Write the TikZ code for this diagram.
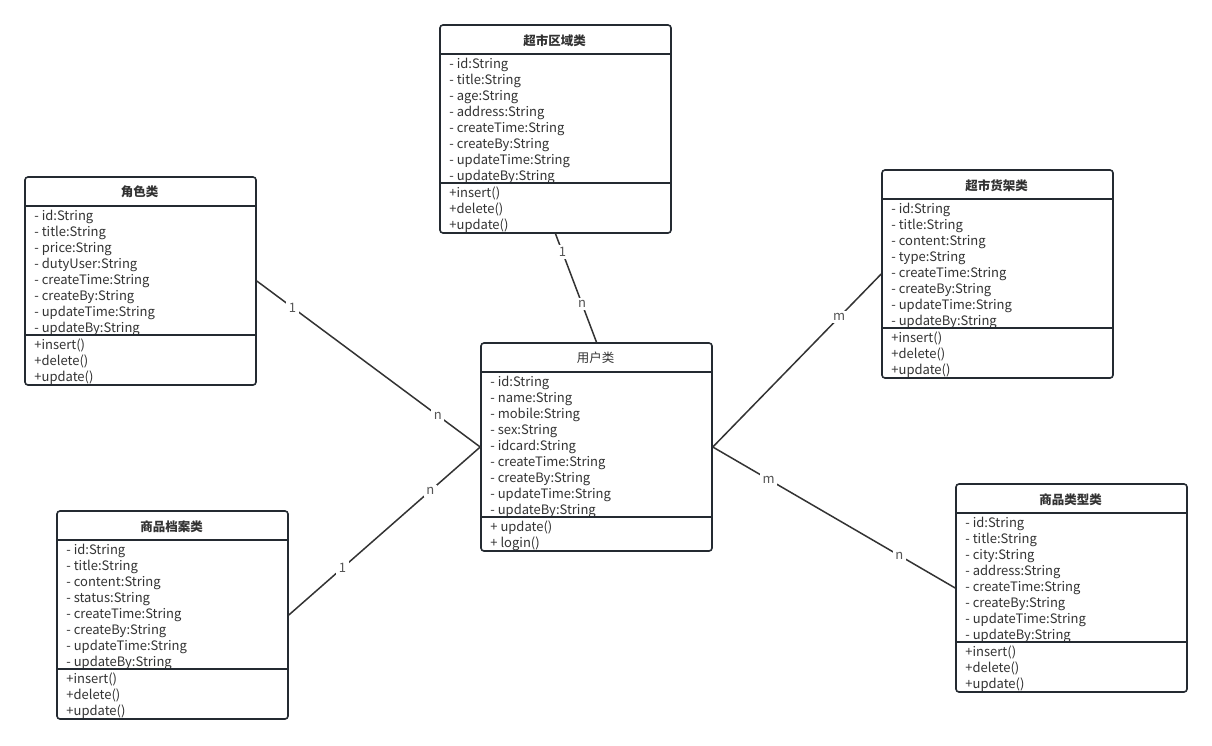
\documentclass[tikz,border=0pt]{standalone}
\usepackage{fontspec}
\setmainfont{Noto Sans CJK SC}
\definecolor{boxline}{HTML}{242A31}
\definecolor{conn}{HTML}{333333}
\definecolor{txt}{HTML}{333333}
\definecolor{lbl}{HTML}{555555}
\tikzset{
  classbox/.style={draw=boxline, line width=1.6pt, rounded corners=3pt, minimum width=231pt, minimum height=208pt, inner sep=0pt, fill=white},
  sepline/.style={draw=boxline, line width=1.6pt},
  attr/.style={anchor=west, inner sep=0pt, text=txt, font=\fontsize{13}{15}\selectfont},
  ctitle/.style={inner sep=0pt, text=txt, font=\fontsize{12.5}{15}\selectfont\bfseries},
  conline/.style={draw=conn, line width=1.5pt},
  mult/.style={fill=white, inner sep=2.5pt, text=lbl, font=\fontsize{13}{15}\selectfont},
}
\newcommand\umlclass[8]{% name, x, y, title, attrs, sep offset, methods, title font
  \node[classbox] (#1) at (#2+115.5,#3+104) {};
  \node[ctitle] (#1t) at ([shift={(115.5,16)}]#1.north west) {#8#4};
  \draw[sepline] ([yshift=-30pt]#1.north west) -- ([yshift=-30pt]#1.north east);
  \foreach \a [count=\i] in {#5} {
    \node[attr] (#1a\i) at ([shift={(10,24.5+16*\i)}]#1.north west) {\a};
  }
  \draw[sepline] ([yshift=-#6pt]#1.north west) -- ([yshift=-#6pt]#1.north east);
  \foreach \m [count=\i] in {#7} {
    \node[attr] (#1m\i) at ([shift={(10,#6-5.5+16*\i)}]#1.north west) {\m};
  }
}
\begin{document}
\begin{tikzpicture}[x=1pt,y=-1pt]
\useasboundingbox[fill=white] (0,0) rectangle (1212,745);

\umlclass{area}{440}{25}{超市区域类}{- id:String,- title:String,- age:String,- address:String,- createTime:String,- createBy:String,- updateTime:String,- updateBy:String}{159}{+insert(),+delete(),+update()}{}
\umlclass{role}{25}{177}{角色类}{- id:String,- title:String,- price:String,- dutyUser:String,- createTime:String,- createBy:String,- updateTime:String,- updateBy:String}{159}{+insert(),+delete(),+update()}{}
\umlclass{shelf}{882}{170}{超市货架类}{- id:String,- title:String,- content:String,- type:String,- createTime:String,- createBy:String,- updateTime:String,- updateBy:String}{159}{+insert(),+delete(),+update()}{}
\umlclass{user}{481}{343}{用户类}{- id:String,- name:String,- mobile:String,- sex:String,- idcard:String,- createTime:String,- createBy:String,- updateTime:String,- updateBy:String}{175}{+ update(),+ login()}{\mdseries}
\umlclass{goods}{57}{511}{商品档案类}{- id:String,- title:String,- content:String,- status:String,- createTime:String,- createBy:String,- updateTime:String,- updateBy:String}{159}{+insert(),+delete(),+update()}{}
\umlclass{gtype}{956}{484}{商品类型类}{- id:String,- title:String,- city:String,- address:String,- createTime:String,- createBy:String,- updateTime:String,- updateBy:String}{159}{+insert(),+delete(),+update()}{}

\draw[conline] (area.south) -- node[mult, pos=0.17] (l1) {1} node[mult, pos=0.65] (l2) {n} (user.north);
\draw[conline] (role.east) -- node[mult, pos=0.16] (l3) {1} node[mult, pos=0.81] (l4) {n} (user.west);
\draw[conline] (goods.east) -- node[mult, pos=0.28] (l5) {1} node[mult, pos=0.74] (l6) {n} (user.west);
\draw[conline] (user.east) -- node[mult, pos=0.75] (l7) {m} (shelf.west);
\draw[conline] (user.east) -- node[mult, pos=0.23] (l8) {m} node[mult, pos=0.77] (l9) {n} (gtype.west);
\end{tikzpicture}
\end{document}
